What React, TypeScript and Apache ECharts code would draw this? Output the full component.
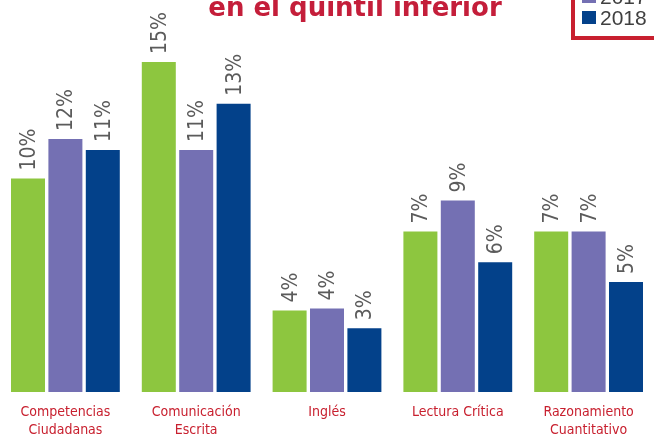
import React, { useEffect, useRef } from "react";
import * as echarts from "echarts";

const categories = [
  "Competencias\nCiudadanas",
  "Comunicación\nEscrita",
  "Inglés",
  "Lectura Crítica",
  "Razonamiento\nCuantitativo",
];
const seriesNames = ["2016", "2017", "2018"];
const values2016 = [9.7, 15.0, 3.7, 7.3, 7.3];
const values2017 = [11.5, 11.0, 3.8, 8.7, 7.3];
const values2018 = [11.0, 13.1, 2.9, 5.9, 5.0];
const colors = ["#8dc63f", "#7470b3", "#03418a"];
const title = "en el quintil inferior";

export default function App() {
  const ref = useRef<HTMLDivElement>(null);
  useEffect(() => {
    if (!ref.current) return;
    const chart = echarts.init(ref.current, null, { renderer: "svg" });
    const data = [values2016, values2017, values2018];
    const condensed = "'DejaVu Sans Condensed', 'Liberation Sans Narrow', sans-serif";
    const legendItems: any[] = [];
    seriesNames.forEach((name, i) => {
      const cy = 17.5 - (seriesNames.length - 1 - i) * 21;
      legendItems.push({
        type: "rect",
        shape: { x: 582, y: cy - 6.5, width: 14, height: 13 },
        style: { fill: colors[i] },
      });
      legendItems.push({
        type: "text",
        x: 600,
        y: cy,
        style: {
          text: name,
          fill: "#3f3f3f",
          font: "21px 'Liberation Sans', Arial, sans-serif",
          align: "left",
          verticalAlign: "middle",
        },
      });
    });
    chart.setOption({
      animation: false,
      grid: { left: -4, right: -8, top: 40, bottom: 53 },
      xAxis: {
        type: "category",
        data: categories,
        axisLine: { show: false },
        axisTick: { show: false },
        axisLabel: {
          margin: 10,
          color: "#c8202f",
          fontSize: 14,
          lineHeight: 18,
          fontFamily: condensed,
          interval: 0,
        },
      },
      yAxis: { type: "value", min: 0, max: 16, show: false, splitLine: { show: false } },
      graphic: [
        {
          type: "text",
          x: 355,
          y: 7,
          style: {
            text: title,
            fill: "#c41e3a",
            font: "bold 26px 'DejaVu Sans', sans-serif",
            align: "center",
            verticalAlign: "middle",
          },
        },
        ...legendItems,
        {
          type: "rect",
          shape: { x: 573, y: -20, width: 100, height: 58 },
          style: { fill: "none", stroke: "#c8202f", lineWidth: 4 },
          z: 10,
        },
      ],
      series: seriesNames.map((name, i) => ({
        name,
        type: "bar",
        data: data[i],
        barWidth: 34,
        barGap: "10%",
        itemStyle: { color: colors[i] },
        label: {
          show: true,
          position: "top",
          rotate: 90,
          align: "left",
          verticalAlign: "middle",
          distance: 8,
          fontSize: 21,
          fontFamily: condensed,
          color: "#5b5b5b",
          formatter: (p: any) => Math.round(p.value) + "%",
        },
      })),
    });
    return () => chart.dispose();
  }, []);
  return (
    <div
      ref={ref}
      style={{ position: "fixed", left: 0, top: 0, width: 654, height: 445 }}
    />
  );
}
